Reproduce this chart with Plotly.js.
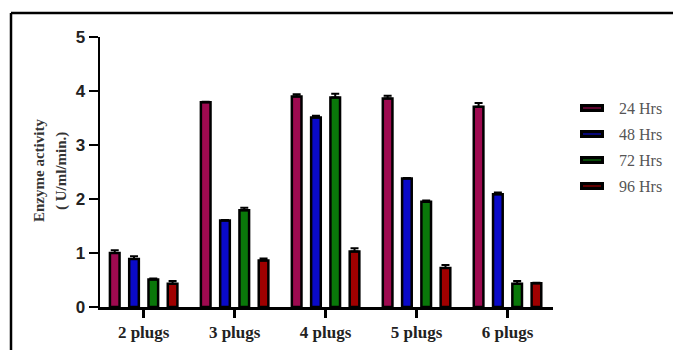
<!DOCTYPE html>
<html>
<head>
<meta charset="utf-8">
<script src="https://cdn.plot.ly/plotly-3.0.1.min.js"></script>
<style>html,body{margin:0;padding:0;background:#fff;}#chart{width:673px;height:350px;}</style>
</head>
<body>
<div id="chart"></div>
<script>
var categories = ["2 plugs", "3 plugs", "4 plugs", "5 plugs", "6 plugs"];
var seriesNames = ["24 Hrs", "48 Hrs", "72 Hrs", "96 Hrs"];
var hrs24 = [1.00, 3.79, 3.90, 3.86, 3.71];
var hrs48 = [0.89, 1.60, 3.51, 2.38, 2.09];
var hrs72 = [0.51, 1.79, 3.88, 1.95, 0.43];
var hrs96 = [0.43, 0.86, 1.03, 0.72, 0.44];
var err24 = [0.05, 0.01, 0.04, 0.05, 0.07];
var err48 = [0.05, 0.01, 0.03, 0.01, 0.03];
var err72 = [0.02, 0.05, 0.07, 0.02, 0.05];
var err96 = [0.05, 0.04, 0.06, 0.06, 0.01];
var yTitleLines = ["Enzyme activity", "( U/ml/min.)"];
var colors = ["#9E0A50", "#0A0AC8", "#0A780A", "#A00000"];

var values = [hrs24, hrs48, hrs72, hrs96];
var errors = [err24, err48, err72, err96];

var W = 673, H = 350;
var M = {l: 100, r: 120, t: 37, b: 43};
var PW = W - M.l - M.r, PH = H - M.t - M.b;
function fx(px) { return (px - M.l) / PW; }
function fy(py) { return (H - M.b - py) / PH; }

var traces = values.map(function (v, i) {
  return {
    type: "bar",
    name: seriesNames[i],
    x: categories,
    y: v,
    marker: {color: colors[i], line: {color: "#000", width: 2.5}},
    error_y: {type: "data", symmetric: false, array: errors[i],
              arrayminus: v.map(function () { return 0; }),
              color: "#000", thickness: 2, width: 4},
    showlegend: false
  };
});

var shapes = [
  {type: "line", xref: "paper", yref: "paper", x0: fx(11), x1: fx(680), y0: fy(13), y1: fy(13),
   line: {color: "#000", width: 2.5}},
  {type: "line", xref: "paper", yref: "paper", x0: fx(11), x1: fx(11), y0: fy(13), y1: fy(360),
   line: {color: "#000", width: 2.5}}
];
var annotations = [
  {xref: "paper", yref: "paper", x: fx(39), y: fy(171), text: "<b>" + yTitleLines[0] + "</b>",
   textangle: -90, showarrow: false, xanchor: "center", yanchor: "middle",
   font: {family: "Liberation Serif", size: 15, color: "#333"}},
  {xref: "paper", yref: "paper", x: fx(61), y: fy(171), text: "<b>" + yTitleLines[1] + "</b>",
   textangle: -90, showarrow: false, xanchor: "center", yanchor: "middle",
   font: {family: "Liberation Serif", size: 15, color: "#333"}}
];
var legY = [108, 134, 160, 186];
seriesNames.forEach(function (n, i) {
  shapes.push({type: "rect", xref: "paper", yref: "paper", x0: fx(580), x1: fx(604),
    y0: fy(legY[i] + 4), y1: fy(legY[i] - 4), fillcolor: "#000", line: {color: "#000", width: 0}});
  shapes.push({type: "line", xref: "paper", yref: "paper", x0: fx(583), x1: fx(601),
    y0: fy(legY[i]), y1: fy(legY[i]), line: {color: colors[i], width: 1.2}});
  annotations.push({xref: "paper", yref: "paper", x: fx(617), y: fy(legY[i]), text: n,
    showarrow: false, xanchor: "left", yanchor: "middle",
    font: {family: "Liberation Serif", size: 16, color: "#555"}});
});

var layout = {
  width: W, height: H,
  margin: M,
  paper_bgcolor: "#fff", plot_bgcolor: "#fff",
  barmode: "group", bargap: 0.152, bargroupgap: 0.5,
  xaxis: {
    range: [-0.48, 4.5], showgrid: false, zeroline: false,
    showline: true, linecolor: "#000", linewidth: 2.5,
    ticks: "outside", ticklen: 8, tickwidth: 2.5, tickcolor: "#000",
    tickfont: {family: "Liberation Serif", size: 17, color: "#222", weight: "bold"},
    fixedrange: true
  },
  yaxis: {
    range: [0, 5], dtick: 1, showgrid: false, zeroline: false,
    showline: true, linecolor: "#000", linewidth: 2.5,
    ticks: "outside", ticklen: 9, tickwidth: 2.5, tickcolor: "#000",
    tickfont: {family: "Liberation Sans", size: 17, color: "#222", weight: "bold"},
    fixedrange: true
  },
  shapes: shapes,
  annotations: annotations,
  showlegend: false
};

Plotly.newPlot("chart", traces, layout, {displayModeBar: false, staticPlot: true});
</script>
</body>
</html>
